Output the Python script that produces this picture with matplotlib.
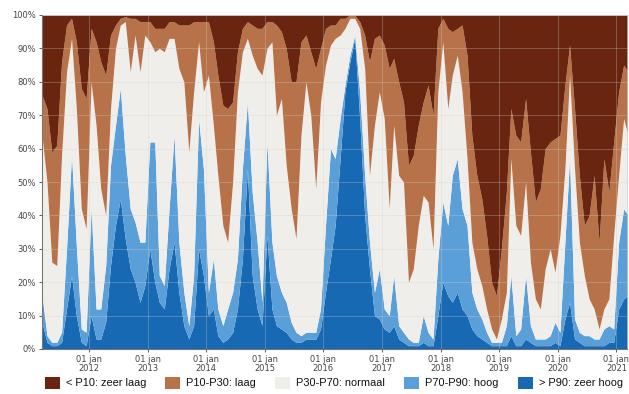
#!/usr/bin/env python3
"""
Share of monitoring points per percentile class, monthly, 2011-2021.
Stacked 100% area chart. Saves out.png.
"""
import numpy as np
import pandas as pd
import matplotlib
matplotlib.use('Agg')
import matplotlib.pyplot as plt
from matplotlib.patches import Rectangle

# monthly samples (mid-month), March 2011 .. March 2021
dates = pd.date_range('2011-03-01', periods=121, freq='MS') + pd.Timedelta(days=14)

# cumulative upper edge (%) of each class, counted from the bottom
zeer_hoog_top = [
    8, 2, 1, 1, 2, 12, 22, 10, 2, 1, 10, 3,
    3, 8, 25, 37, 45, 33, 24, 20, 14, 19, 30, 20,
    14, 12, 24, 32, 17, 7, 3, 7, 30, 22, 10, 12,
    4, 2, 3, 5, 12, 27, 54, 22, 12, 7, 34, 12,
    7, 6, 5, 3, 2, 2, 3, 3, 3, 6, 17, 27,
    37, 57, 77, 86, 93, 69, 40, 24, 10, 9, 6, 5,
    7, 3, 2, 1, 1, 1, 2, 1, 1, 10, 20, 16,
    14, 17, 12, 10, 6, 4, 3, 2, 1, 1, 1, 1,
    4, 1, 1, 3, 2, 1, 1, 1, 1, 2, 1, 9,
    14, 3, 2, 1, 1, 1, 1, 1, 2, 2, 12, 15,
    16,
]
hoog_top = [
    16, 4, 2, 2, 5, 30, 58, 31, 6, 5, 42, 12,
    12, 25, 55, 67, 78, 58, 42, 38, 32, 32, 62, 62,
    22, 19, 42, 64, 32, 17, 7, 22, 69, 54, 17, 27,
    12, 7, 12, 17, 27, 54, 74, 47, 32, 14, 62, 32,
    22, 17, 14, 8, 5, 4, 5, 5, 5, 12, 37, 60,
    57, 69, 79, 88, 94, 77, 52, 32, 17, 24, 12, 10,
    22, 7, 5, 3, 2, 2, 10, 5, 3, 27, 44, 37,
    52, 57, 42, 37, 17, 12, 9, 5, 2, 2, 2, 7,
    22, 4, 6, 22, 7, 3, 3, 3, 4, 8, 5, 32,
    57, 9, 5, 4, 4, 3, 3, 6, 7, 6, 32, 42,
    40,
]
normaal_top = [
    64, 50, 26, 25, 58, 83, 93, 72, 42, 36, 80, 67,
    48, 40, 72, 90, 97, 98, 83, 94, 83, 94, 92, 89,
    90, 89, 93, 93, 84, 80, 59, 77, 92, 77, 82, 67,
    52, 37, 32, 50, 77, 89, 93, 88, 84, 82, 90, 92,
    70, 75, 55, 42, 33, 64, 80, 70, 48, 74, 85, 91,
    93, 94, 96, 99, 99, 96, 84, 52, 67, 77, 69, 42,
    67, 52, 50, 20, 24, 37, 46, 44, 30, 77, 92, 72,
    82, 88, 77, 57, 32, 24, 19, 12, 6, 3, 9, 17,
    57, 37, 34, 50, 26, 15, 12, 24, 30, 23, 34, 54,
    82, 54, 32, 22, 15, 12, 6, 12, 15, 34, 52, 69,
    64,
]
laag_top = [
    76, 72, 59, 61, 86, 97, 99, 92, 78, 75, 96, 92,
    86, 82, 94, 97, 99, 99.5, 99, 99, 98, 98, 98, 96,
    96, 96, 98, 98, 97, 97, 97, 98, 98, 98, 98, 92,
    82, 73, 72, 74, 89, 96, 98, 97, 96, 96, 98, 98,
    97, 95, 90, 80, 80, 92, 94, 89, 84, 90, 96, 97,
    97, 99, 99, 100, 100, 98, 94, 86, 93, 94, 91, 84,
    87, 80, 74, 55, 58, 67, 74, 79, 70, 96, 99, 96,
    95, 96, 97, 88, 64, 52, 45, 34, 20, 16, 30, 47,
    72, 64, 62, 75, 59, 44, 48, 60, 62, 63, 64, 79,
    91, 72, 52, 37, 40, 52, 32, 57, 47, 62, 77, 85,
    83,
]

labels = ['< P10: zeer laag', 'P10-P30: laag', 'P30-P70: normaal',
          'P70-P90: hoog', '> P90: zeer hoog']
colors = ['#692510', '#b8724a', '#efeeeb', '#5a9fd8', '#1769b3']
years = list(range(2012, 2022))

W, H = 629, 394
# legend swatch left edges in pixels (text follows the swatch)
legend_x = [45, 165, 275, 404, 518]


def main():
    fig = plt.figure(figsize=(W / 100, H / 100), dpi=100)
    ax = fig.add_axes([42 / W, 1 - 349 / H, 585 / W, 334 / H])

    zero = np.zeros(len(dates))
    full = np.full(len(dates), 100.0)
    edges = [zero, zeer_hoog_top, hoog_top, normaal_top, laag_top, full]
    # bottom to top: zeer hoog, hoog, normaal, laag, zeer laag
    fills = colors[::-1]
    for i in range(5):
        ax.fill_between(dates, edges[i], edges[i + 1], color=fills[i],
                        linewidth=0, zorder=1)

    ax.set_ylim(0, 100)
    ax.set_xlim(pd.Timestamp('2011-03-15'), pd.Timestamp('2021-03-08'))

    ax.set_yticks(range(0, 101, 10))
    ax.set_yticklabels([f'{v}%' for v in range(0, 101, 10)])
    xt = [pd.Timestamp(f'{y}-01-01') for y in years]
    ax.set_xticks(xt)
    ax.set_xticklabels([f'01 jan\n{y}' for y in years])
    ax.tick_params(labelsize=6, colors='#444444', length=2.5, width=0.6,
                   pad=2)
    for lab in ax.get_xticklabels():
        lab.set_linespacing(0.95)

    # faint grid on top of the areas
    ax.grid(True, color='#d8d0c8', alpha=0.35, linewidth=0.6, zorder=3)
    ax.set_axisbelow(False)

    for side in ['top', 'right']:
        ax.spines[side].set_color('#cccccc')
        ax.spines[side].set_linewidth(0.5)
    for side in ['left', 'bottom']:
        ax.spines[side].set_color('#777777')
        ax.spines[side].set_linewidth(0.8)

    # legend row at the bottom, laid out by hand
    for x0, c, lab in zip(legend_x, colors, labels):
        fig.patches.append(Rectangle((x0 / W, 1 - 389 / H), 15 / W, 12 / H,
                                     transform=fig.transFigure,
                                     facecolor=c, edgecolor='none'))
        fig.text((x0 + 21) / W, 1 - 383 / H, lab, ha='left', va='center',
                 fontsize=7.9, family=['Liberation Sans', 'DejaVu Sans'],
                 color='#111111')

    fig.savefig('out.png', dpi=100)
    plt.close(fig)


if __name__ == '__main__':
    main()
